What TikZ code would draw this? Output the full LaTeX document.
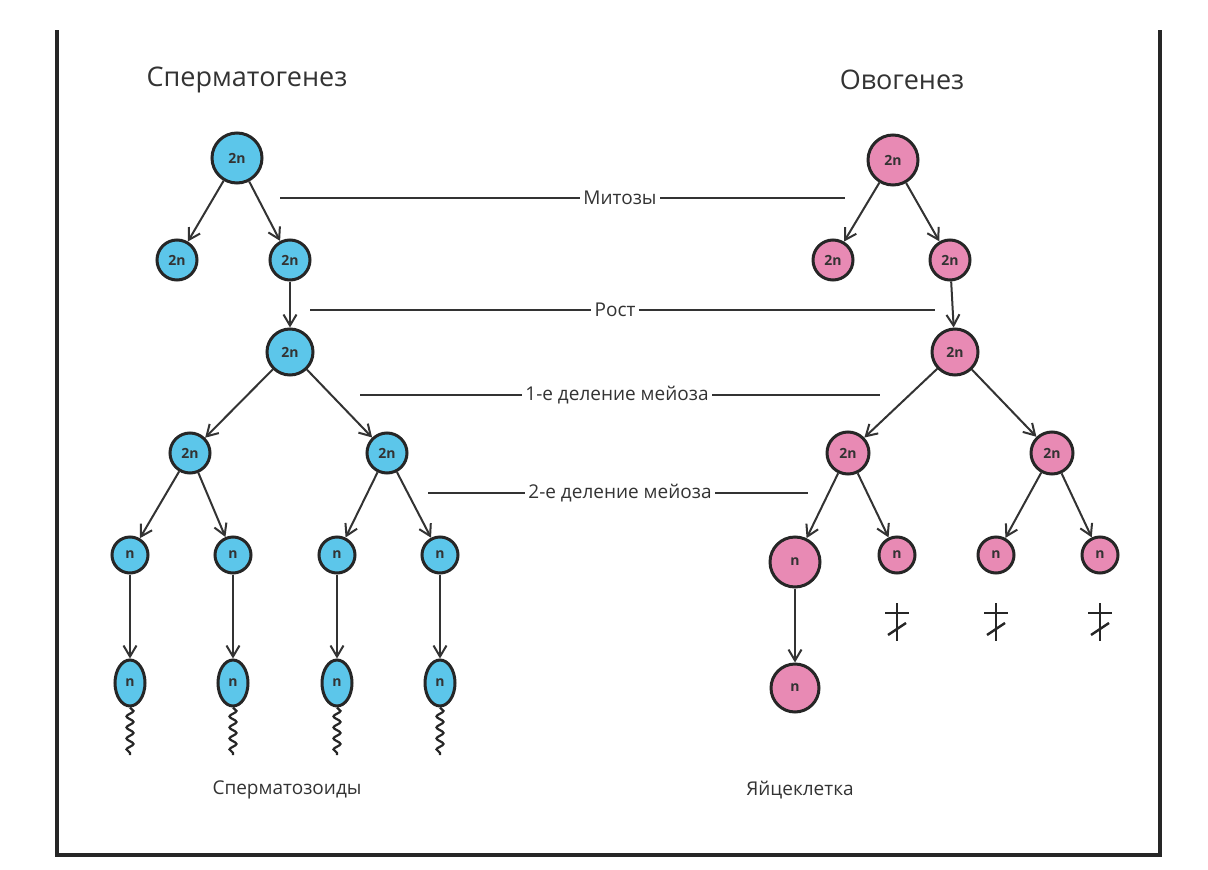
\documentclass[tikz,border=0pt]{standalone}
\usepackage{fontspec}
\setmainfont{Open Sans}
\usetikzlibrary{arrows.meta,decorations.pathmorphing,shapes.geometric}
\definecolor{bl}{HTML}{5CC6EA}
\definecolor{pk}{HTML}{E88AB4}
\definecolor{tx}{HTML}{333333}
\begin{document}
\begin{tikzpicture}[x=1pt,y=-1pt,
 cell/.style={circle,draw=black!85,line width=3pt,inner sep=0pt,font=\bfseries\fontsize{14}{16}\selectfont,text=black!80},
 b/.style={cell,fill=bl},p/.style={cell,fill=pk},
 arr/.style={draw=black!80,line width=2pt,-{Straight Barb[length=11pt,width=13pt,line width=2pt]}},
 ln/.style={draw=black!80,line width=1.8pt},
 lab/.style={font=\fontsize{19}{22}\selectfont,text=tx},
 ttl/.style={font=\fontsize{27}{30}\selectfont,text=tx},
 tail/.style={draw=black!85,line width=2.2pt,decorate,decoration={snake,amplitude=3.5pt,segment length=11pt}}]
\useasboundingbox (0,0) rectangle (1208,870);
\draw[line width=4pt,black!85] (57,30) -- (57,855) -- (1160,855) -- (1160,30);
% titles
\node[ttl] (t1) at (247,80) {Сперматогенез};
\node[ttl] (t2) at (902,80) {Овогенез};
\node[lab] (t3) at (287,790) {Сперматозоиды};
\node[lab] (t4) at (800,790) {Яйцеклетка};
% sperm tree
\node[b,minimum size=50pt] (s0) at (237,158) {2n};
\node[b,minimum size=40pt] (s1) at (177,260) {2n};
\node[b,minimum size=40pt] (s2) at (290,260) {2n};
\node[b,minimum size=46pt] (s3) at (290,352) {2n};
\node[b,minimum size=40pt] (s4) at (190,453) {2n};
\node[b,minimum size=40pt] (s5) at (387,453) {2n};
\foreach \i/\x in {1/130,2/233,3/337,4/440}{
 \node[b,minimum size=36pt] (n\i) at (\x,555) {n};
 \node[b,ellipse,minimum width=30pt,minimum height=46pt] (z\i) at (\x,683) {n};
 \coordinate (e\i) at (\x,755);
 \draw[tail] (z\i.south) -- (e\i);
 \draw[arr] (n\i) -- (z\i);
}
\draw[arr] (s0) -- (s1); \draw[arr] (s0) -- (s2);
\draw[arr] (s2) -- (s3);
\draw[arr] (s3) -- (s4); \draw[arr] (s3) -- (s5);
\draw[arr] (s4) -- (n1); \draw[arr] (s4) -- (n2);
\draw[arr] (s5) -- (n3); \draw[arr] (s5) -- (n4);
% egg tree
\node[p,minimum size=50pt] (o0) at (893,160) {2n};
\node[p,minimum size=40pt] (o1) at (833,260) {2n};
\node[p,minimum size=40pt] (o2) at (950,260) {2n};
\node[p,minimum size=46pt] (o3) at (955,352) {2n};
\node[p,minimum size=42pt] (o4) at (848,453) {2n};
\node[p,minimum size=42pt] (o5) at (1052,453) {2n};
\node[p,minimum size=50pt] (m1) at (795,562) {n};
\node[p,minimum size=36pt] (m2) at (897,555) {n};
\node[p,minimum size=36pt] (m3) at (996,555) {n};
\node[p,minimum size=36pt] (m4) at (1100,555) {n};
\node[p,minimum size=48pt] (egg) at (795,688) {n};
\draw[arr] (o0) -- (o1); \draw[arr] (o0) -- (o2);
\draw[arr] (o2) -- (o3);
\draw[arr] (o3) -- (o4); \draw[arr] (o3) -- (o5);
\draw[arr] (o4) -- (m1); \draw[arr] (o4) -- (m2);
\draw[arr] (o5) -- (m3); \draw[arr] (o5) -- (m4);
\draw[arr] (m1) -- (egg);
\foreach \x in {897,996,1100}{
 \draw[line width=2.4pt,black!85] (\x,603) -- (\x,641);
 \draw[line width=2.4pt,black!85] (\x-12,613) -- (\x+12,613);
 \draw[line width=2.4pt,black!85] (\x-9,635) -- (\x+9,623);
}
% stage labels
\node[lab] (l1) at (620,198) {Митозы};
\draw[ln] (280,198) -- (l1.west); \draw[ln] (l1.east) -- (845,198);
\node[lab] (l2) at (615,310) {Рост};
\draw[ln] (310,310) -- (l2.west); \draw[ln] (l2.east) -- (935,310);
\node[lab] (l3) at (617,395) {1-е деление мейоза};
\draw[ln] (360,395) -- (l3.west); \draw[ln] (l3.east) -- (880,395);
\node[lab] (l4) at (620,493) {2-е деление мейоза};
\draw[ln] (428,493) -- (l4.west); \draw[ln] (l4.east) -- (808,493);
\end{tikzpicture}
\end{document}
